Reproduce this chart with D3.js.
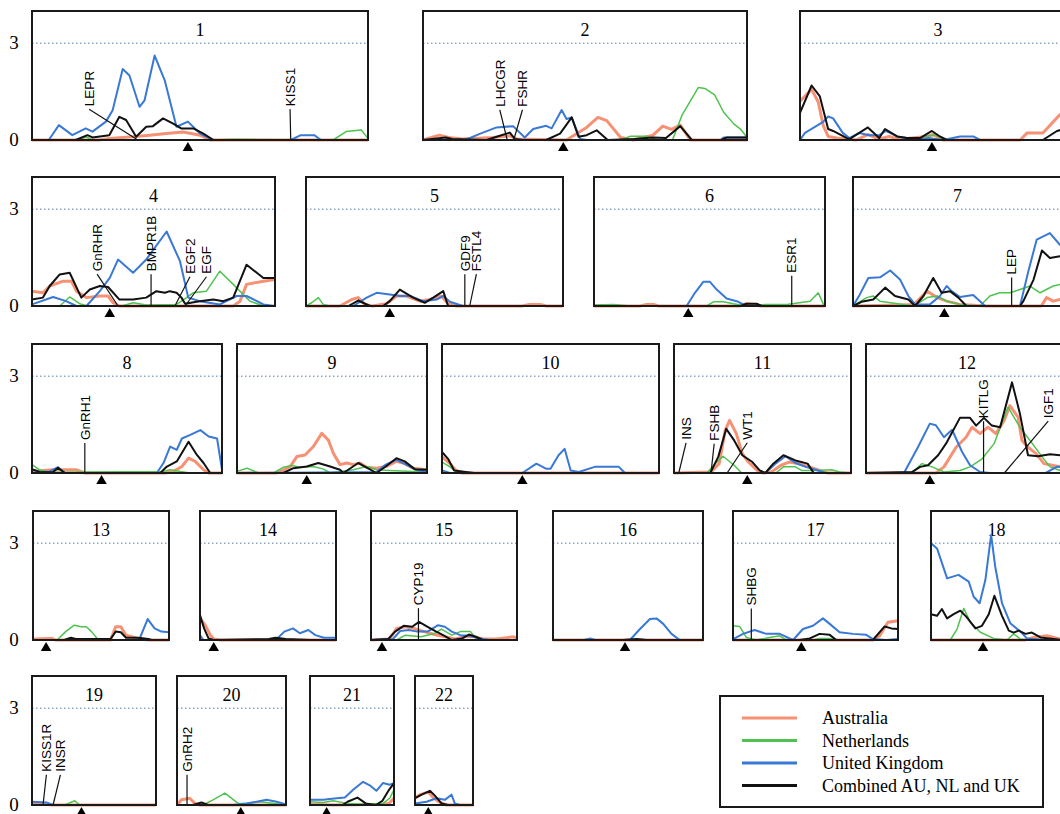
<!DOCTYPE html>
<html>
<head>
<meta charset="utf-8">
<script src="https://cdn.jsdelivr.net/npm/d3@7"></script>
<style>
  body { margin: 0; background: #fff; }
</style>
</head>
<body>
<div id="chart"></div>
<script>
// ---- data: positions along each chromosome in % of its length, values are LOD-like scores
const chromosomes = d3.range(1, 23);
const centromeres = [46.4, 43.3, 47.8, 32, 32.6, 40.8, 43.7, 36.6, 36.7, 37, 41.4, 31.6,
                     9.6, 10.1, 7.5, 48, 41.4, 39.7, 39.9, 58.5, 19.8, 22.9];
const yTicks = [0, 3];
const threshold = 3;
const seriesNames = ['Australia', 'Netherlands', 'United Kingdom', 'Combined AU, NL and UK'];

const australia = [
  [[0,0],[20,0],[23,0.05],[30,0.1],[35,0.15],[40,0.2],[45,0.25],[50,0.15],[53,0],[100,0]],
  [[0,0],[5,0.15],[8,0.08],[12,0.03],[21.6,0.08],[26.8,0.13],[29,0.03],[44.3,0],[46.4,0.13],[50.5,0.39],[54,0.7],[56.7,0.6],[61,0.08],[65,0],[71,0.15],[74,0.43],[76.7,0.33],[79.4,0.46],[82.5,0],[100,0]],
  [[0,1.2],[4.2,1.57],[6.6,1.18],[8.4,0.45],[10.2,0.11],[13.4,0.06],[20.3,0],[24.6,0.17],[28.7,0.03],[32.3,0.11],[35.9,0.02],[46,0.11],[48.2,0.17],[51.8,0],[79.8,0],[82.3,0.22],[88,0.22],[94.2,0.79],[100,1.0]],
  [[0,0.46],[4.5,0.41],[7.3,0.62],[12.8,0.77],[16.2,0.77],[18.3,0.46],[22.4,0.26],[27.9,0.31],[31.3,0.31],[33.4,0.1],[36,0],[82.8,0],[85.6,0.15],[88.3,0.67],[95.2,0.77],[100,0.82]],
  [[0,0],[13.2,0],[17.8,0.2],[20.3,0.26],[22.9,0.05],[25.9,0],[31.3,0.07],[35.2,0.31],[39,0.31],[44.3,0.15],[48.2,0.2],[52.7,0.31],[55.3,0.07],[58.5,0],[84,0],[87,0.05],[91,0.05],[93.5,0],[100,0]],
  [[0,0],[20,0],[22.8,0.05],[25.7,0.05],[28,0],[63,0],[66,0.07],[70,0.05],[72,0],[100,0]],
  [[0,0],[22.4,0.03],[29.2,0.05],[35.5,0.46],[40.3,0.26],[44.8,0.15],[51.2,0.05],[63.6,0],[90.1,0],[92.6,0.26],[95.8,0.15],[99,0.2],[100,0.2]],
  [[0,0.05],[11,0.1],[23.4,0.1],[27.8,0],[70,0],[74.5,0.05],[78.9,0.2],[82.4,0.46],[85.9,0.36],[90.3,0.1],[93,0],[100,0]],
  [[0,0],[20.9,0],[28,0.2],[31.5,0.51],[35.8,0.56],[40.2,0.82],[44.6,1.23],[48.1,1.02],[50.7,0.61],[54.2,0.26],[57.7,0.31],[61.2,0.26],[64.7,0.31],[68.2,0.18],[73.4,0.15],[78.3,0.2],[83.9,0.36],[87.4,0.31],[92.7,0.15],[100,0.1]],
  [[0,0.5],[3.7,0.29],[6.5,0.08],[9.3,0],[100,0]],
  [[0,0],[20.9,0.03],[25.5,0.29],[28.9,1.32],[31.4,1.63],[35.2,1.22],[38.6,0.6],[42,0.34],[47,0.08],[50.5,0],[55,0.03],[60.5,0.24],[65,0.34],[70.9,0.29],[76.4,0.19],[82.3,0.08],[86.8,0],[100,0]],
  [[0,0],[34.6,0],[38.6,0.19],[44.6,0.8],[49.5,1.11],[52.5,1.42],[56.5,1.22],[60.4,1.42],[64.3,1.22],[68.4,1.63],[71.2,2.09],[75.3,1.73],[77.2,1.01],[80.2,0.8],[84.2,0.6],[88.1,0.29],[92.1,0.24],[96.1,0.19],[100,0.15]],
  [[0,0.03],[13.9,0.05],[16.5,0],[57,0],[60.8,0.41],[64.6,0.41],[68.4,0.15],[77.2,0.05],[84.8,0],[100,0]],
  [[0,0.67],[3.8,0.46],[7.6,0.15],[10.1,0.03],[15.2,0],[100,0]],
  [[0,0],[12.7,0.03],[17.6,0.36],[23.5,0.41],[29.4,0.36],[36.5,0.26],[43.5,0.17],[50.6,0.1],[57.6,0.03],[64.7,0.1],[70.6,0.1],[76.5,0.03],[85.9,0.03],[92.9,0.07],[97.6,0.1],[100,0.05]],
  [[0,0],[100,0]],
  [[0,0],[85,0],[88.9,0.13],[93.9,0.55],[100,0.6]],
  [[0,0],[71.5,0],[78.4,0.08],[88.5,0.13],[98.7,0.03],[100,0]],
  [[0,0.05],[8.9,0.02],[17,0],[100,0]],
  [[0,0],[4,0.16],[11.7,0.21],[16.3,0.05],[20.9,0],[100,0]],
  [[0,0.02],[27.7,0],[86.8,0.02],[94,0.05],[100,0.21]],
  [[0,0.21],[8.6,0.32],[22.9,0.4],[31.4,0.23],[42.9,0.08],[54.3,0],[100,0]]
];

const netherlands = [
  [[0,0],[14,0],[16,0.1],[18,0],[54,0],[60,0.02],[89.6,0],[93.5,0.26],[98,0.31],[100,0.05]],
  [[0,0],[61,0],[64,0.12],[69,0.12],[72,0],[77,0],[80,0.78],[85,1.63],[87,1.6],[90,1.4],[92.8,0.86],[95.9,0.5],[98,0.34],[100,0.08]],
  [[0,0],[41.8,0],[45.4,0.12],[49,0.15],[52.6,0],[100,0]],
  [[0,0],[11.4,0],[15.5,0.28],[19.6,0.07],[23,0],[37,0],[41.6,0.1],[47,0.03],[59.5,0.05],[63.6,0.26],[66.3,0.41],[71.8,0.46],[77.3,1.08],[82.8,0.67],[89.7,0.15],[95.2,0],[100,0]],
  [[0,0],[2.2,0.1],[4.8,0.26],[6.7,0.05],[9.3,0],[100,0]],
  [[0,0.03],[8.4,0.05],[15.6,0],[48.8,0],[51.7,0.13],[56,0.13],[60.3,0.07],[66,0],[74.7,0.05],[83.5,0.05],[93.5,0.15],[97.1,0.41],[99.3,0.05],[100,0]],
  [[0,0],[6.5,0.26],[9.7,0.31],[12.9,0.15],[29,0],[35.5,0.26],[40.3,0.31],[44.8,0.15],[51.2,0.05],[60.7,0],[65.5,0.31],[70.2,0.41],[75.1,0.41],[79.9,0.51],[84.7,0.62],[89.5,0.41],[95.8,0.62],[99,0.67],[100,0.67]],
  [[0,0.26],[4,0.1],[9.3,0.02],[69.2,0.05],[72.7,0.1],[78,0.05],[83.3,0],[100,0]],
  [[0,0.05],[5.2,0.15],[11.4,0],[19.2,0],[24.5,0.18],[28.8,0.23],[33.2,0.18],[40.2,0.2],[45.5,0.12],[49,0],[61.2,0.1],[68.2,0.2],[73.4,0.1],[80,0.08],[92.7,0.05],[100,0.03]],
  [[0,0.34],[3.7,0.19],[7.4,0],[100,0]],
  [[0,0],[18.6,0],[23.2,0.29],[27.7,0.52],[34,0.24],[38.2,0],[57.5,0],[61.8,0.19],[68.6,0.19],[72,0.08],[80,0.08],[89.1,0.1],[93.6,0.03],[100,0]],
  [[0,0],[22.7,0],[27.7,0.29],[32.7,0.19],[38.6,0.03],[46.5,0.08],[51.5,0.19],[57.5,0.44],[63.4,0.91],[70.3,2.04],[76.2,1.42],[81.2,1.01],[87.2,0.5],[91.1,0.19],[96.1,0.08],[100,0.05]],
  [[0,0],[17.7,0],[24,0.26],[30.4,0.46],[35.4,0.41],[39.2,0.41],[43,0.26],[48.1,0],[100,0]],
  [[0,0],[100,0]],
  [[0,0],[17.6,0],[23.5,0.15],[34.1,0.1],[43.5,0.2],[48.2,0.34],[55.3,0.15],[61.2,0.26],[68.2,0.26],[71.8,0.05],[78.8,0],[100,0]],
  [[0,0],[100,0]],
  [[0,0.44],[4,0.42],[8.1,0.08],[14.1,0],[22.2,0.08],[28.3,0.13],[32.3,0],[48.5,0],[52.5,0.05],[58.6,0.05],[62.6,0],[100,0]],
  [[0,0],[14.7,0],[19.9,0.34],[25,0.98],[30,0.55],[37.7,0.24],[47.8,0.05],[58,0],[63.1,0.19],[68.3,0.03],[73.4,0],[100,0]],
  [[0,0],[26.4,0],[34.5,0.13],[38.5,0],[100,0]],
  [[0,0],[23.9,0],[33.1,0.16],[43.9,0.37],[56.1,0.05],[63.8,0.05],[76.1,0.1],[82.2,0.08],[94.5,0.02],[100,0]],
  [[0,0.1],[15.8,0.08],[27.7,0.13],[43.5,0.05],[67,0.02],[87,0.05],[94.9,0.21],[100,0.47]],
  [[0,0],[100,0]]
];

const unitedKingdom = [
  [[0,0],[5,0],[8,0.46],[12,0.15],[16,0.36],[18,0.26],[22,0.57],[24,0.92],[27,2.2],[29,2.0],[32,1.03],[33.5,1.23],[36.5,2.62],[39.5,1.85],[43,0.41],[46.4,0.57],[50,0.2],[54,0],[77,0],[80,0.15],[84,0.15],[86,0],[100,0]],
  [[0,0],[13,0],[17.5,0.19],[22.7,0.39],[27.8,0.43],[31.4,0.08],[34,0.34],[38,0.44],[39.7,0.36],[42.8,0.93],[44.3,0.65],[45.9,0.7],[48.5,0.03],[50.5,0],[92,0],[92.8,0.08],[100,0.08]],
  [[0,0],[1.8,0.22],[8.4,0.56],[10.2,0.73],[12,0.67],[15.5,0.22],[17.9,0.06],[21.5,0.22],[25.1,0.15],[28.7,0.15],[31.1,0.28],[35.2,0.11],[38.7,0.06],[42.4,0],[46.6,0.06],[51.8,0],[58,0.11],[62.8,0.11],[65.2,0],[100,0]],
  [[0,0.05],[8.7,0.28],[14,0.15],[18.3,0],[22.4,0],[27.9,0.46],[32,0.87],[35.4,1.44],[41.6,1.03],[47,1.44],[55.4,2.31],[60.9,1.39],[64.3,0.26],[69,0.15],[77.3,0.05],[84.2,0.31],[88.3,0.31],[95.2,0.05],[100,0]],
  [[0,0],[18.4,0],[23.6,0.26],[27.5,0.41],[32.6,0.36],[36.5,0.31],[40.5,0.31],[45.6,0.15],[50.8,0.2],[53.4,0.31],[56,0.13],[61.1,0],[100,0]],
  [[0,0],[40.1,0],[43.7,0.41],[47.3,0.75],[50.2,0.75],[53.1,0.51],[57.4,0.23],[61.8,0.15],[64.6,0.05],[67.5,0],[100,0]],
  [[0,0],[3.3,0.36],[7.3,0.87],[12.9,0.89],[17.8,1.1],[22.5,0.82],[26.5,0.31],[29.7,0.05],[36.8,0.05],[41.6,0.31],[44.8,0.62],[47.2,0.46],[51.2,0.28],[57.5,0.34],[63.2,0],[79.9,0],[83.9,1.08],[87.9,2.06],[94.2,2.26],[99,1.9],[100,1.85]],
  [[0,0.1],[4.7,0.02],[9.3,0.05],[13.7,0.18],[17.3,0],[65.7,0],[69.2,0.31],[72.7,0.82],[76.2,0.72],[78.9,1.07],[83.3,1.18],[88.6,1.33],[93,1.13],[97.4,1.07],[100,0.1]],
  [[0,0],[73.4,0.03],[78.3,0.26],[83.9,0.41],[89,0.26],[94.4,0.1],[100,0.03]],
  [[0,0.08],[3.7,0],[37,0],[43.5,0.29],[48.1,0.13],[50,0.13],[53.7,0.55],[56.5,0.75],[59.3,0.08],[63,0.03],[70.4,0.19],[75.9,0.19],[81.5,0.19],[84.3,0],[100,0]],
  [[0,0],[51.6,0],[57.3,0.29],[63,0.52],[68.6,0.31],[74.4,0.19],[80,0.1],[85.7,0],[100,0]],
  [[0,0],[18.8,0],[25.7,0.8],[31.6,1.53],[34.6,1.48],[38.6,1.11],[42.6,1.34],[47.6,0.65],[51.5,0.24],[56.5,0.03],[61.4,0],[88.9,0],[94.4,0.19],[100,0.2]],
  [[0,0],[78,0],[84.3,0.65],[89.4,0.36],[94.4,0.26],[100,0.24]],
  [[0,0.15],[2.5,0],[55.7,0],[62,0.26],[68.4,0.36],[73.4,0.21],[79.7,0.31],[84.8,0.15],[91.1,0.07],[100,0.07]],
  [[0,0],[15,0.03],[20,0.28],[25.9,0.31],[31.8,0.26],[38.8,0.26],[45.9,0.46],[50.6,0.41],[55.3,0.26],[61.2,0.15],[67.1,0.13],[76.5,0.03],[81.2,0],[100,0]],
  [[0,0],[20.6,0],[24.8,0.05],[28,0],[51.3,0],[58,0.34],[64.6,0.65],[69,0.67],[73.5,0.5],[79,0.19],[84.5,0],[100,0]],
  [[0,0.03],[6.1,0.19],[13.1,0.31],[20.2,0.19],[28.3,0.19],[36.4,0],[42.4,0.34],[48.5,0.44],[54.5,0.67],[58.6,0.5],[64.6,0.24],[72.7,0.19],[80.8,0.16],[84.8,0.03],[92.9,0],[100,0.03]],
  [[0,3.0],[4.6,2.84],[12.3,1.91],[21,2.02],[28.8,1.81],[32.6,1.34],[37.1,1.14],[41.5,1.86],[45.9,3.26],[49,2.28],[54.2,1.14],[60.5,0.52],[68.3,0.26],[73.2,0.05],[78.4,0.03],[88.5,0],[100,0]],
  [[0,0.1],[11.6,0.08],[17,0],[100,0]],
  [[0,0],[51.5,0],[63.8,0.05],[73,0.1],[82.2,0.16],[91.4,0.1],[100,0.02]],
  [[0,0.16],[15.8,0.16],[31.6,0.21],[41.5,0.23],[51.4,0.47],[63.2,0.72],[71.1,0.61],[79,0.44],[86.8,0.68],[94.9,0.63],[100,0.68]],
  [[0,0.05],[20,0.1],[37.1,0.21],[51.4,0.16],[62.9,0.32],[68.6,0.05],[77.1,0],[100,0]]
];

const combined = [
  [[0,0],[13,0],[16.5,0.15],[18,0.08],[23,0.15],[26,0.72],[28,0.62],[31,0.1],[34,0.41],[36,0.43],[39,0.67],[42,0.51],[44.4,0.36],[48,0.36],[51,0.2],[54,0],[100,0]],
  [[0,0],[7,0.08],[9,0.03],[19.6,0],[23.7,0.13],[26.8,0.23],[28.4,0.03],[31,0],[38,0],[42.3,0.2],[45.9,0.7],[48,0.1],[50.5,0.15],[53.6,0.3],[57,0],[65,0.03],[71,0.08],[75,0.06],[79.4,0.43],[83,0],[92,0],[93.8,0.08],[100,0.08]],
  [[0,0.84],[4.2,1.69],[7.2,1.35],[10.2,0.34],[12,0.28],[17,0.06],[17.9,0.03],[24.6,0.39],[28.7,0.06],[30.8,0.34],[35.2,0.11],[38.7,0.06],[43.5,0.06],[46,0.19],[47.8,0.28],[50.7,0.11],[53.2,0],[88,0],[93.1,0.28],[100,0.45]],
  [[0,0.2],[4.5,0.26],[7.3,0.62],[11.4,0.98],[15.5,1.03],[20.3,0.26],[23.8,0.51],[27.9,0.62],[31.3,0.59],[36,0.2],[41.6,0.2],[47,0.26],[51.2,0.46],[54.7,0.41],[56.7,0.46],[59.5,0.41],[61.5,0.26],[63,0.07],[69,0.15],[74.6,0.2],[78.7,0.15],[82.8,0.26],[88.3,1.28],[95.2,0.87],[100,0.87]],
  [[0,0],[16.5,0],[20.3,0.17],[24.9,0],[30,0],[32.6,0.15],[36.5,0.51],[41.7,0.26],[46.2,0.1],[49.5,0.26],[53.4,0.46],[55.3,0],[100,0]],
  [[0,0],[63.5,0],[66,0.07],[70.4,0.07],[72.6,0],[100,0]],
  [[0,0],[4.1,0.13],[9.7,0.2],[15.4,0.57],[20.1,0.31],[26.5,0.2],[29.7,0],[33.7,0.31],[38.4,0.87],[42.4,0.41],[46.4,0.46],[50.4,0.26],[54.3,0],[79.9,0],[81.5,0.15],[86.4,0.82],[90.4,1.72],[94.2,1.49],[99,1.54],[100,1.54]],
  [[0,0.12],[4.7,0.02],[11,0.02],[13.7,0.16],[17.3,0],[67.5,0],[71,0.2],[76.2,0.36],[82.4,0.97],[86.8,0.56],[90.3,0.31],[93.8,0],[100,0]],
  [[0,0],[24.3,0],[29.7,0.15],[36.7,0.2],[42.8,0.31],[49,0.2],[54.2,0.1],[56,0],[63.8,0.31],[67.3,0.2],[73.4,0],[78.3,0.2],[83.9,0.46],[88.3,0.36],[93.5,0.12],[100,0.1]],
  [[0,0.65],[2.8,0.44],[5.6,0.08],[11,0.03],[14.8,0],[100,0]],
  [[0,0],[20.5,0],[25,0.5],[29.5,1.37],[34,1.01],[38.6,0.55],[44.3,0.34],[48.4,0.08],[51.6,0],[56.1,0.29],[61.8,0.55],[68.6,0.39],[75.5,0.29],[78.9,0],[100,0]],
  [[0,0],[22.7,0.03],[26.8,0.19],[30.7,0.24],[35.7,0.55],[39.6,0.91],[46.5,1.71],[51.5,1.71],[54.5,1.47],[58.4,1.71],[62.3,1.47],[66.4,1.42],[72.3,2.81],[76.2,1.84],[80.2,0.55],[85.2,0.52],[91.1,0.58],[96.1,0.55],[100,0.55]],
  [[0,0],[23,0],[27.8,0.07],[31.6,0.03],[57,0.03],[60.8,0.26],[64.6,0.24],[68.4,0.07],[77.2,0.07],[84.8,0.03],[87.3,0],[100,0]],
  [[0,0.77],[3,0.36],[6.3,0.05],[10.1,0],[50.6,0.03],[55.7,0.07],[63,0.03],[81,0],[100,0]],
  [[0,0],[11.8,0.03],[16.5,0.26],[22.4,0.44],[28.2,0.41],[32.9,0.56],[38.8,0.41],[44.7,0.26],[49.4,0.15],[55.3,0],[62.4,0.05],[67.1,0.17],[71.8,0.1],[76.5,0],[100,0]],
  [[0,0],[46.5,0],[55.8,0.03],[62.4,0],[100,0]],
  [[0,0],[40.4,0],[46.5,0.05],[52.5,0.19],[58.6,0.16],[62.6,0],[84.8,0],[91.9,0.42],[96,0.36],[100,0.34]],
  [[0,0.8],[4.6,0.75],[8.3,0.96],[12.3,0.67],[17.3,0.8],[22.4,0.91],[27.4,0.7],[33.9,0.36],[38.9,0.44],[44.1,0.8],[48.4,1.37],[54.2,0.75],[59.4,0.29],[63.1,0.23],[66.9,0.29],[72.1,0.19],[77,0.23],[83.6,0.08],[93.7,0.03],[100,0]],
  [[0,0],[100,0]],
  [[0,0],[14.7,0],[22.4,0.08],[28.5,0],[100,0]],
  [[0,0],[38.7,0],[44.7,0.1],[56.5,0.23],[66.4,0.05],[78.3,0],[86.2,0.13],[94.1,0.47],[100,0.68]],
  [[0,0.21],[11.4,0.32],[25.7,0.44],[34.3,0.29],[45.7,0.05],[57.1,0],[100,0]]
];

// candidate genes: chromosome, position of gene (%), position of label (%), label foot (score units)
const geneNames  = ['LEPR','KISS1','LHCGR','FSHR','GnRHR','BMPR1B','EGF2','EGF','GDF9','FSTL4','ESR1','LEP',
                    'GnRH1','INS','FSHB','WT1','KITLG','IGF1','CYP19','SHBG','KISS1R','INSR','GnRH2'];
const geneChrom  = [1,1,2,2,4,4,4,4,5,5,6,7,8,11,11,11,12,12,15,17,19,19,20];
const genePos    = [31.5,77,26,28,35.4,49,58.8,63,61.8,63.7,85.6,75.9,27.8,2.7,20.9,30,58.2,68.5,32.5,11.1,8.9,17,9.2];
const geneLabel  = [17,76.8,23.7,30.7,26.8,49,65,71.8,61.8,66.3,85.6,75.9,27.8,6.8,22.7,41.4,58.2,90.2,32.5,11.1,11.6,22.9,9.2];
const geneFoot   = [1.05,1.05,1.03,1.03,1.08,1.08,1.0,1.0,1.08,1.08,1.03,0.98,1.02,1.03,1.0,1.03,1.7,1.7,1.08,1.07,1.03,1.03,1.03];

// ---- layout (pixels)
const W = 1060, H = 814;
const rowBottom = [140, 306, 473, 640, 805];
const panelH = 129;
const panelRow   = [0,0,0, 1,1,1,1, 2,2,2,2,2, 3,3,3,3,3,3, 4,4,4,4];
const panelLeft  = [32,423,800, 32,306,594,853, 32,237,442,674,866, 33,200,371,553,733,931, 32,177,310,415];
const panelRight = [368,747,1076, 275,563,825,1062, 222,427,659,851,1068, 169,336,517,703,898,1062, 156,286,394,473];

const serif = '"Liberation Serif", "Times New Roman", serif';
const sans = '"Liberation Sans", Arial, sans-serif';
const colors = ['#f47e5c', '#4fc24f', '#3a78d6', '#111111'];
const widths = [3, 1.5, 2, 2];
const seriesData = [australia, netherlands, unitedKingdom, combined];

const svg = d3.select('#chart').append('svg')
    .attr('width', W)
    .attr('height', H)
    .style('background', '#fff');

const y = d3.scaleLinear().domain([0, 4]).range([panelH, 0]);

chromosomes.forEach((chr, i) => {
    const row = panelRow[i];
    const left = panelLeft[i];
    const w = panelRight[i] - left;
    const top = rowBottom[row] - panelH;
    const x = d3.scaleLinear().domain([0, 100]).range([0, w]);

    const g = svg.append('g').attr('transform', 'translate(' + left + ',' + top + ')');

    // threshold line
    g.append('line')
        .attr('x1', 0).attr('x2', w)
        .attr('y1', y(threshold)).attr('y2', y(threshold))
        .attr('stroke', '#8aa6c4')
        .attr('stroke-width', 1.5)
        .attr('stroke-dasharray', '1.5,2.5');

    // chromosome number
    g.append('text')
        .attr('x', w / 2)
        .attr('y', 25)
        .attr('text-anchor', 'middle')
        .style('font-family', serif)
        .style('font-size', '18px')
        .text(chr);

    // score curves
    const line = d3.line().x(d => x(d[0])).y(d => y(d[1]));
    seriesData.forEach((series, s) => {
        g.append('path')
            .datum(series[i])
            .attr('d', line)
            .attr('fill', 'none')
            .attr('stroke', colors[s])
            .attr('stroke-width', widths[s])
            .attr('stroke-opacity', s === 0 ? 0.85 : 1)
            .attr('stroke-linejoin', 'round');
    });

    // gene labels
    geneNames.forEach((name, k) => {
        if (geneChrom[k] !== chr) return;
        g.append('line')
            .attr('x1', x(geneLabel[k])).attr('y1', y(geneFoot[k]) + 3)
            .attr('x2', x(genePos[k])).attr('y2', y(0))
            .attr('stroke', '#111')
            .attr('stroke-width', 1.2);
        g.append('text')
            .attr('transform', 'translate(' + x(geneLabel[k]) + ',' + y(geneFoot[k]) + ') rotate(-90)')
            .attr('dy', '0.35em')
            .style('font-family', sans)
            .style('font-size', '13.5px')
            .text(name);
    });

    // panel frame
    g.append('rect')
        .attr('width', w).attr('height', panelH)
        .attr('fill', 'none')
        .attr('stroke', '#1a1a1a')
        .attr('stroke-width', 2);

    // centromere marker
    g.append('path')
        .attr('d', d3.symbol(d3.symbolTriangle, 48))
        .attr('transform', 'translate(' + x(centromeres[i]) + ',' + (panelH + 8) + ')')
        .attr('fill', '#000');

    // y ticks on the first panel in a row
    if (i === 0 || panelRow[i - 1] !== row) {
        yTicks.forEach(t => {
            svg.append('text')
                .attr('x', 14)
                .attr('y', top + y(t) + 6)
                .attr('text-anchor', 'middle')
                .style('font-family', serif)
                .style('font-size', '19px')
                .text(t);
        });
    }
});

// legend
const legend = svg.append('g').attr('transform', 'translate(720,696)');
legend.append('rect')
    .attr('width', 323).attr('height', 111)
    .attr('fill', '#fff')
    .attr('stroke', '#1a1a1a')
    .attr('stroke-width', 2);
seriesNames.forEach((name, s) => {
    const ly = 22 + s * 22.5;
    legend.append('line')
        .attr('x1', 22).attr('x2', 77)
        .attr('y1', ly).attr('y2', ly)
        .attr('stroke', colors[s])
        .attr('stroke-opacity', s === 0 ? 0.85 : 1)
        .attr('stroke-width', 3);
    legend.append('text')
        .attr('x', 102).attr('y', ly + 6)
        .style('font-family', serif)
        .style('font-size', '18px')
        .text(name);
});
</script>
</body>
</html>
